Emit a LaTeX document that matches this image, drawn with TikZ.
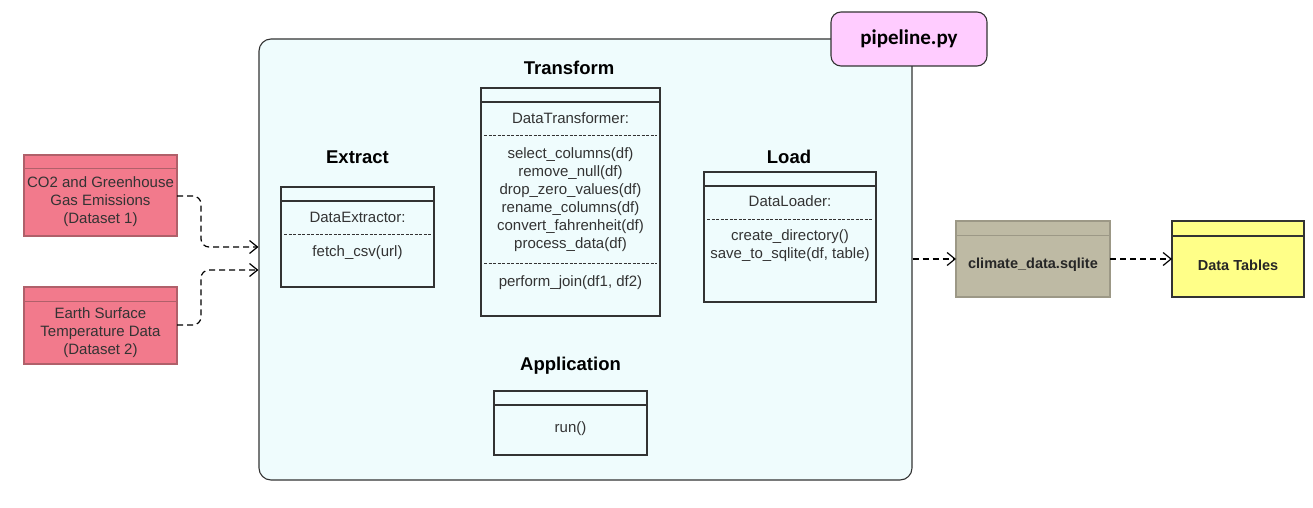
\documentclass[tikz,border=0pt]{standalone}
\usepackage{fontspec}
\setmainfont{Liberation Sans}
\newfontfamily\calib{Carlito}
\usetikzlibrary{arrows.meta}
\definecolor{bgcyan}{HTML}{EFFCFD}
\definecolor{pinkbox}{HTML}{FFCCFF}
\definecolor{redbox}{HTML}{F27A8C}
\definecolor{redline}{HTML}{B0606A}
\definecolor{khaki}{HTML}{BEBAA4}
\definecolor{khakiline}{HTML}{9C9886}
\definecolor{yelbox}{HTML}{FFFF88}
\definecolor{ink}{HTML}{333333}
\tikzset{
  boxline/.style={draw=ink, line width=1.1pt},
  umlbox/.style={boxline, rectangle, inner sep=0pt, outer sep=0pt},
  sepdash/.style={draw=ink, line width=0.7pt, dash pattern=on 3pt off 1.5pt},
  txt/.style={inner sep=0pt, font=\fontsize{15}{18}\selectfont, text=ink, align=center},
  ttl/.style={inner sep=0pt, font=\fontsize{18.5}{22}\selectfont\bfseries, text=black},
  btxt/.style={inner sep=0pt, font=\fontsize{14.5}{18}\selectfont\bfseries, text=black!85},
  conn/.style={draw=black, line width=1.2pt, dash pattern=on 6pt off 4pt, rounded corners=8pt,
    -{Straight Barb[length=8pt,width=13pt,line width=1.2pt]}},
}
\begin{document}
\begin{tikzpicture}[x=1pt,y=-1pt]
\useasboundingbox (0,0) rectangle (1313,508);
% main container
\node[draw=ink, line width=1.1pt, fill=bgcyan, rounded corners=12pt, minimum width=653pt, minimum height=441pt, inner sep=0pt] (main) at (585.5,259.5) {};
% pipeline label
\node[draw=ink, line width=1.1pt, fill=pinkbox, rounded corners=10pt, minimum width=156pt, minimum height=54pt, inner sep=0pt, font=\calib\fontsize{21}{24}\selectfont\bfseries] (pipe) at (909,39) {pipeline.py};

% Datasets
\node[umlbox, draw=redline, fill=redbox, minimum width=153pt, minimum height=81pt] (d1) at (100.5,195.5) {};
\draw[draw=redline, line width=1pt] ([yshift=-13pt]d1.north west) -- ([yshift=-13pt]d1.north east);
\node[txt] (d1t) at (100.5,202) {CO2 and Greenhouse\\Gas Emissions\\(Dataset 1)};
\node[umlbox, draw=redline, fill=redbox, minimum width=153pt, minimum height=77pt] (d2) at (100.5,325.5) {};
\draw[draw=redline, line width=1pt] ([yshift=-14pt]d2.north west) -- ([yshift=-14pt]d2.north east);
\node[txt] (d2t) at (100.5,333) {Earth Surface\\Temperature Data\\(Dataset 2)};

% Extract
\node[ttl] (extT) at (357.5,157) {Extract};
\node[umlbox, minimum width=153pt, minimum height=100pt] (ext) at (357.5,237) {};
\draw[boxline] ([yshift=-14pt]ext.north west) -- ([yshift=-14pt]ext.north east);
\node[txt] (extC) at (357.5,217) {DataExtractor:};
\draw[sepdash] ([xshift=3pt,yshift=-47pt]ext.north west) -- ([xshift=-3pt,yshift=-47pt]ext.north east);
\node[txt] (extM) at (357.5,253) {fetch\_csv(url)};

% Transform
\node[ttl] (trT) at (569,68) {Transform};
\node[umlbox, minimum width=179pt, minimum height=228pt] (tr) at (570.5,202) {};
\draw[boxline] ([yshift=-14pt]tr.north west) -- ([yshift=-14pt]tr.north east);
\node[txt] (trC) at (570.5,118) {DataTransformer:};
\draw[sepdash] ([xshift=3pt,yshift=-47pt]tr.north west) -- ([xshift=-3pt,yshift=-47pt]tr.north east);
\node[txt] (trM) at (570.5,199.5) {select\_columns(df)\\remove\_null(df)\\drop\_zero\_values(df)\\rename\_columns(df)\\convert\_fahrenheit(df)\\process\_data(df)};
\draw[sepdash] ([xshift=3pt,yshift=-175pt]tr.north west) -- ([xshift=-3pt,yshift=-175pt]tr.north east);
\node[txt] (trJ) at (570.5,283) {perform\_join(df1, df2)};

% Load
\node[ttl] (ldT) at (789,157) {Load};
\node[umlbox, minimum width=172pt, minimum height=130pt] (ld) at (790,237) {};
\draw[boxline] ([yshift=-14pt]ld.north west) -- ([yshift=-14pt]ld.north east);
\node[txt] (ldC) at (790,201) {DataLoader:};
\draw[sepdash] ([xshift=3pt,yshift=-47pt]ld.north west) -- ([xshift=-3pt,yshift=-47pt]ld.north east);
\node[txt] (ldM) at (790,246) {create\_directory()\\save\_to\_sqlite(df, table)};

% Application
\node[ttl] (apT) at (570.5,366) {Application};
\node[umlbox, minimum width=153pt, minimum height=64pt] (ap) at (570.5,423) {};
\draw[boxline] ([yshift=-14pt]ap.north west) -- ([yshift=-14pt]ap.north east);
\node[txt] (apM) at (570.5,429) {run()};

% database
\node[umlbox, draw=khakiline, fill=khaki, minimum width=154pt, minimum height=76pt] (db) at (1033,259) {};
\draw[draw=khakiline, line width=1pt] ([yshift=-14pt]db.north west) -- ([yshift=-14pt]db.north east);
\node[btxt] (dbt) at (1033,265) {climate\_data.sqlite};

% data tables
\node[umlbox, fill=yelbox, minimum width=132pt, minimum height=76pt] (dt) at (1238,259) {};
\draw[boxline] ([yshift=-15pt]dt.north west) -- ([yshift=-15pt]dt.north east);
\node[btxt] (dtt) at (1238,265) {Data Tables};

% connectors
\coordinate (c1a) at (201,196);
\coordinate (c1b) at (201,247);
\coordinate (in1) at (main.west |- c1b);
\coordinate (c2a) at (201,325);
\coordinate (c2b) at (201,270);
\coordinate (in2) at (main.west |- c2b);
\draw[conn] (d1.east |- c1a) -- (c1a) -- (c1b) -- (in1);
\draw[conn] (d2.east |- c2a) -- (c2a) -- (c2b) -- (in2);
\coordinate (out1) at (main.east |- db.west);
\draw[conn] (out1) -- (db.west);
\draw[conn] (db.east) -- (dt.west);
\end{tikzpicture}
\end{document}
